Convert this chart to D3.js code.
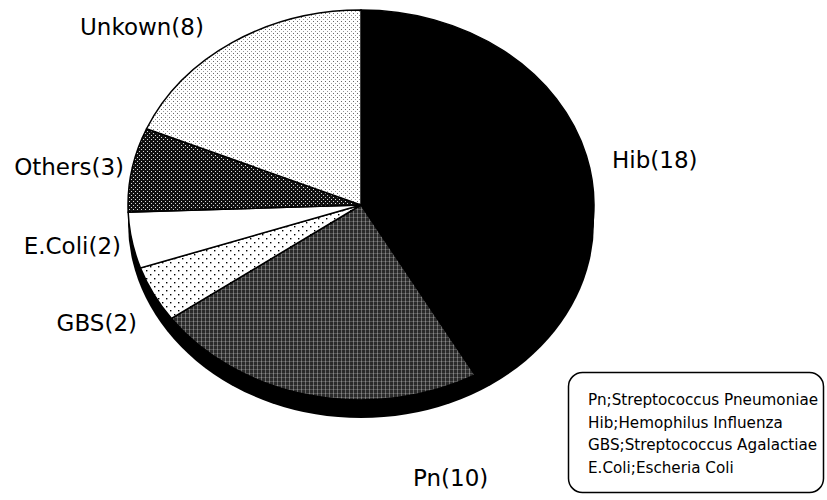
<!DOCTYPE html>
<html>
<head>
<meta charset="utf-8">
<script src="https://cdn.jsdelivr.net/npm/d3@7"></script>
<style>
  body { margin: 0; background: #fff; }
  text { font-family: "DejaVu Sans", sans-serif; fill: #000; }
</style>
</head>
<body>
<svg id="chart" width="827" height="500"></svg>
<script>
// chart data
var categories = ["Hib", "Pn", "GBS", "E.Coli", "Others", "Unkown"];
var counts = [18, 10, 2, 2, 3, 8];
var legendLines = [
    "Pn;Streptococcus Pneumoniae",
    "Hib;Hemophilus Influenza",
    "GBS;Streptococcus Agalactiae",
    "E.Coli;Escheria Coli"
];

var data = categories.map(function (c, i) {
    return {name: c, count: counts[i]};
});

// geometry of the tilted pie
var cx = 361, cy = 205, rx = 233, ry = 195, depth = 18;
var squash = ry / rx;

// label placement (text anchor points)
var labelSpots = {
    "Hib":    {x: 612, y: 168, anchor: "start"},
    "Pn":     {x: 413, y: 486, anchor: "start"},
    "GBS":    {x: 137, y: 331, anchor: "end"},
    "E.Coli": {x: 121, y: 254, anchor: "end"},
    "Others": {x: 124, y: 175, anchor: "end"},
    "Unkown": {x: 80,  y: 35,  anchor: "start"}
};

var fills = {
    "Hib": "#000",
    "Pn": "url(#pat-pn)",
    "GBS": "url(#pat-gbs)",
    "E.Coli": "#fff",
    "Others": "url(#pat-others)",
    "Unkown": "url(#pat-unk)"
};

var svg = d3.select("#chart");
var defs = svg.append("defs");

// undo the vertical squash inside the patterns
var patT = "scale(1," + (1 / squash) + ")";

// Pn: dark cross hatch
var pn = defs.append("pattern").attr("id", "pat-pn")
    .attr("patternUnits", "userSpaceOnUse")
    .attr("width", 4).attr("height", 4)
    .attr("patternTransform", patT);
pn.append("rect").attr("width", 4).attr("height", 4).attr("fill", "#2a2a2a");
pn.append("rect").attr("x", 0).attr("width", 1).attr("height", 4).attr("fill", "rgba(255,255,255,0.30)");
pn.append("rect").attr("y", 0).attr("width", 4).attr("height", 1).attr("fill", "rgba(255,255,255,0.20)");

// GBS: sparse dots
var gbs = defs.append("pattern").attr("id", "pat-gbs")
    .attr("patternUnits", "userSpaceOnUse")
    .attr("width", 8).attr("height", 8)
    .attr("patternTransform", patT);
gbs.append("rect").attr("width", 8).attr("height", 8).attr("fill", "#fff");
gbs.append("rect").attr("x", 1).attr("y", 1).attr("width", 1.4).attr("height", 1.4).attr("fill", "#000");
gbs.append("rect").attr("x", 5).attr("y", 5).attr("width", 1.4).attr("height", 1.4).attr("fill", "#000");

// Others: dark with white dots
var oth = defs.append("pattern").attr("id", "pat-others")
    .attr("patternUnits", "userSpaceOnUse")
    .attr("width", 4).attr("height", 4)
    .attr("patternTransform", patT);
oth.append("rect").attr("width", 4).attr("height", 4).attr("fill", "#111");
oth.append("rect").attr("x", 0).attr("y", 0).attr("width", 1).attr("height", 1).attr("fill", "#ddd");
oth.append("rect").attr("x", 2).attr("y", 2).attr("width", 1).attr("height", 1).attr("fill", "#ddd");

// Unknown: fine light dots
var unk = defs.append("pattern").attr("id", "pat-unk")
    .attr("patternUnits", "userSpaceOnUse")
    .attr("width", 4).attr("height", 4)
    .attr("patternTransform", patT);
unk.append("rect").attr("width", 4).attr("height", 4).attr("fill", "#fff");
unk.append("rect").attr("x", 0).attr("y", 0).attr("width", 1).attr("height", 1).attr("fill", "#666");
unk.append("rect").attr("x", 2).attr("y", 2).attr("width", 1).attr("height", 1).attr("fill", "#999");

// side of the pie (black rim)
svg.append("ellipse")
    .attr("cx", cx).attr("cy", cy + depth)
    .attr("rx", rx).attr("ry", ry)
    .attr("fill", "#000");
svg.append("rect")
    .attr("x", cx - rx).attr("y", cy)
    .attr("width", 2 * rx).attr("height", depth)
    .attr("fill", "#000");

// top face
var pie = d3.pie().sort(null).value(function (d) { return d.count; });
var arc = d3.arc().innerRadius(0).outerRadius(rx);

var g = svg.append("g")
    .attr("transform", "translate(" + cx + "," + cy + ") scale(1," + squash + ")");

g.selectAll(".slice")
    .data(pie(data))
    .enter().append("path")
    .attr("class", "slice")
    .attr("d", arc)
    .attr("fill", function (d) { return fills[d.data.name]; })
    .attr("stroke", "#000")
    .attr("stroke-width", 1.5)
    .attr("vector-effect", "non-scaling-stroke");

// slice labels
svg.selectAll(".label")
    .data(data)
    .enter().append("text")
    .attr("class", "label")
    .attr("x", function (d) { return labelSpots[d.name].x; })
    .attr("y", function (d) { return labelSpots[d.name].y; })
    .attr("text-anchor", function (d) { return labelSpots[d.name].anchor; })
    .style("font-size", "23px")
    .text(function (d) { return d.name + "(" + d.count + ")"; });

// legend box
var legend = svg.append("g").attr("transform", "translate(568,372)");
legend.append("rect")
    .attr("x", 0.5).attr("y", 0.5)
    .attr("width", 255).attr("height", 120)
    .attr("rx", 14).attr("ry", 14)
    .attr("fill", "#fff")
    .attr("stroke", "#000")
    .attr("stroke-width", 1.5);
legend.selectAll("text")
    .data(legendLines)
    .enter().append("text")
    .attr("x", 20)
    .attr("y", function (d, i) { return 33 + i * 22.7; })
    .style("font-size", "15.2px")
    .text(function (d) { return d; });
</script>
</body>
</html>
